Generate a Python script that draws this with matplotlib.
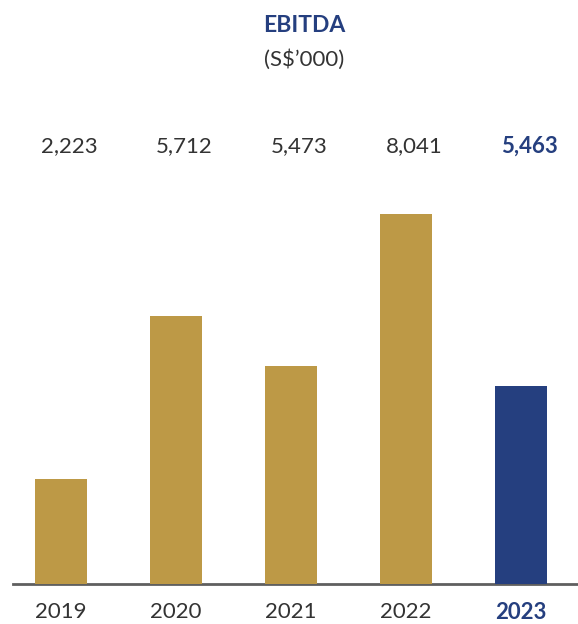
import matplotlib
matplotlib.use("Agg")
import matplotlib.pyplot as plt

# EBITDA (S$'000)
years = ['2019', '2020', '2021', '2022', '2023']
ebitda = [2223, 5712, 5473, 8041, 5463]
# bar heights as drawn in the picture (not strictly to scale with the labels)
bar_heights = [2280, 5820, 4740, 8040, 4300]

gold = '#bd9946'
navy = '#253f7f'
txt = '#333333'

plt.rcParams['font.family'] = ['Lato', 'DejaVu Sans']

fig = plt.figure(figsize=(5.78, 6.24), dpi=100)
ax = fig.add_axes([13 / 578, 40 / 624, 565 / 578, 484 / 624])

x = list(range(len(years)))
colors = [gold] * (len(years) - 1) + [navy]
ax.bar(x, bar_heights, width=0.445, color=colors, zorder=3)

ax.set_xlim(-0.417, 4.496)
ax.set_ylim(0, 10520)

for s in ['top', 'right', 'left']:
    ax.spines[s].set_visible(False)
ax.spines['bottom'].set_color('#5f5f5f')
ax.spines['bottom'].set_linewidth(2)
ax.set_yticks([])
ax.set_xticks(x)
ax.set_xticklabels(years, fontsize=16, color=txt)
ax.tick_params(axis='x', length=0, pad=13)
last = ax.get_xticklabels()[-1]
last.set_color(navy)
last.set_fontweight('bold')

for i, v in enumerate(ebitda):
    bold = i == len(ebitda) - 1
    ax.text(i + 0.07, 0.905, f'{v:,}', transform=ax.get_xaxis_transform(),
            ha='center', va='center', fontsize=16,
            color=navy if bold else txt, fontweight='bold' if bold else 'normal')

fig.text(304 / 578, 1 - 25 / 624, 'EBITDA', ha='center', va='center',
         fontsize=16.5, fontweight='bold', color=navy)
fig.text(304 / 578, 1 - 60 / 624, '(S$\u2019000)', ha='center', va='center',
         fontsize=16, color=txt)

fig.savefig('out.png', dpi=100)
